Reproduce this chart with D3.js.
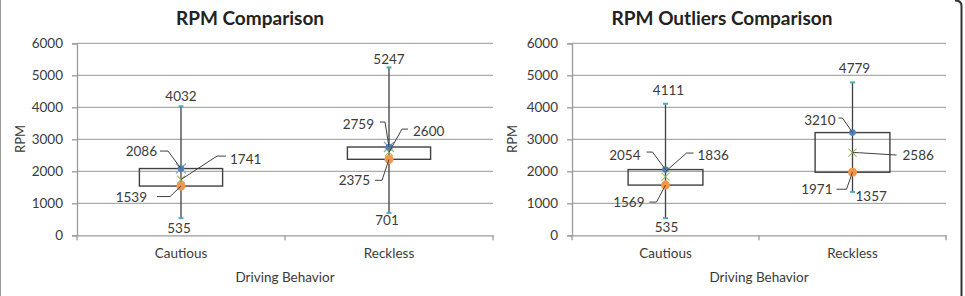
<!DOCTYPE html>
<html><head><meta charset="utf-8">
<script src="https://cdn.jsdelivr.net/npm/d3@7"></script>
<style>
html,body{margin:0;padding:0;background:#fff;}
svg{display:block;font-family:Lato,"Open Sans",sans-serif;}
</style></head>
<body>
<svg id="c" width="965" height="296"></svg>
<script>
// ---- data ----
const categories = ["Cautious", "Reckless"];
const yTicks = [0, 1000, 2000, 3000, 4000, 5000, 6000];
const titles = ["RPM Comparison", "RPM Outliers Comparison"];
const xTitle = "Driving Behavior";
const yTitle = "RPM";

// RPM Comparison
const rpmMin  = [535, 701];
const rpmQ1   = [1539, 2375];
const rpmMean = [1741, 2600];
const rpmQ3   = [2086, 2759];
const rpmMax  = [4032, 5247];

// RPM Outliers Comparison
const outMin  = [535, 1357];
const outQ1   = [1569, 1971];
const outMean = [1836, 2586];
const outQ3   = [2054, 3210];
const outMax  = [4111, 4779];

// ---- layout / label placement (styling, not data) ----
// label: [dx, dy, anchor, leader points relative to point]
const panels = [
  {
    left: 77, right: 493, titleX: 250, yTitleX: 20, star: true,
    d: {min: rpmMin, q1: rpmQ1, mean: rpmMean, q3: rpmQ3, max: rpmMax},
    lab: [
      { max:[0,-10,"middle"], min:[-2,10,"middle"],
        q3:[-24,-17.5,"end",[[-21,-17.5],[-13,-17.5],[0,0]]],
        mean:[49,-21,"start",[[45,-23.5],[36,-23.5],[0,0]]],
        q1:[-34,11,"end",[[-24,10.5],[-11,10.5],[0,0]]] },
      { max:[0,-8,"middle"], min:[-2,7,"middle"],
        q3:[-15,-23,"end",[[-9,-25],[-4,-25],[0,0]]],
        mean:[24,-21,"start",[[19,-23],[13,-23],[0,0]]],
        q1:[-19,21,"end",[[-14,21],[-7,21],[0,0]]] }
    ]
  },
  {
    left: 572, right: 946, titleX: 722, yTitleX: 512, star: false,
    d: {min: outMin, q1: outQ1, mean: outMean, q3: outQ3, max: outMax},
    lab: [
      { max:[3,-14,"middle"], min:[1,9,"middle"],
        q3:[-25,-15,"end",[[-19,-17.5],[-13,-17.5],[0,0]]],
        mean:[32,-21.5,"start",[[28,-23.5],[21,-23.5],[0,-5]]],
        q1:[-21,17,"end",[[-16,17],[-9,17],[0,0]]] },
      { max:[2,-14,"middle"], min:[3,4,"start"],
        q3:[-17,-12.5,"end",[[-14,-14.5],[-10,-14.5],[0,0]]],
        mean:[50,2.5,"start",[[44,2.5],[7,0.2],[0,0]]],
        q1:[-20,17,"end",[[-16,17],[-6,17],[0,0]]] }
    ]
  }
];

const svg = d3.select("#c");
const y = d3.scaleLinear().domain([0, 6000]).range([235.3, 43.3]);
const gridC = "#ababab", axisC = "#9a9a9a", textC = "#3a3a3a", boxC = "#404040";
const blue = "#4f81bd", orange = "#f79646", green = "#9bbb59", cyan = "#4bacc6";

// outer frame
svg.append("line").attr("x1",0.5).attr("x2",0.5).attr("y1",0).attr("y2",296)
  .attr("stroke","#9a9a9a").attr("stroke-width",1);
svg.append("path").attr("d","M955,0.5 Q961.5,0.5 961.5,6 L961.5,296")
  .attr("fill","none").attr("stroke","#333").attr("stroke-width",2);

panels.forEach((p, pi) => {
  const g = svg.append("g");
  const x = d3.scaleBand().domain(categories).range([p.left, p.right]);
  const bw = x.bandwidth() * 0.4;

  // gridlines
  g.selectAll(".grid").data(yTicks.filter(t => t > 0)).join("line")
    .attr("x1", p.left).attr("x2", p.right)
    .attr("y1", d => y(d)).attr("y2", d => y(d))
    .attr("stroke", gridC).attr("stroke-width", 1.3);

  // y axis
  const ya = g.append("g").attr("transform", `translate(${p.left},0)`)
    .call(d3.axisLeft(y).tickValues(yTicks).tickSize(5).tickPadding(9).tickFormat(d3.format("d")));
  ya.select(".domain").attr("stroke", axisC).attr("stroke-width",1.3);
  ya.selectAll(".tick line").attr("stroke", axisC).attr("stroke-width",1.3);
  ya.selectAll(".tick text").attr("fill", textC).style("font-size","13.5px").style("font-family","Lato");

  // x axis
  const xa = g.append("g").attr("transform", `translate(0,${y(0)})`)
    .call(d3.axisBottom(x).tickSize(0).tickPadding(13));
  xa.select(".domain").attr("stroke", axisC).attr("stroke-width",1.3);
  xa.selectAll(".tick text").attr("fill", textC).style("font-size","13.5px").style("font-family","Lato");
  // category boundary ticks
  const bounds = [p.left, p.left + x.step(), p.right];
  g.selectAll(".bt").data(bounds).join("line")
    .attr("x1", d => d).attr("x2", d => d).attr("y1", y(0)).attr("y2", y(0) + 5)
    .attr("stroke", axisC).attr("stroke-width",1.3);

  // titles
  g.append("text").attr("x", p.titleX).attr("y", 25).attr("text-anchor","middle")
    .attr("fill","#222").style("font-size","19px").style("font-weight","bold").text(titles[pi]);
  g.append("text").attr("x", (p.left + p.right)/2).attr("y", 282).attr("text-anchor","middle")
    .attr("fill", textC).style("font-size","13.5px").text(xTitle);
  g.append("text").attr("transform", `translate(${p.yTitleX},139) rotate(-90)`)
    .attr("text-anchor","middle").attr("dominant-baseline","central")
    .attr("fill", textC).style("font-size","13px").text(yTitle);

  categories.forEach((c, i) => {
    const cx = x(c) + x.bandwidth()/2;
    const d = p.d;
    // whisker
    g.append("line").attr("x1", cx).attr("x2", cx)
      .attr("y1", y(d.min[i])).attr("y2", y(d.max[i]))
      .attr("stroke", boxC).attr("stroke-width", 1.3);
    // box
    g.append("rect").attr("x", cx - bw/2).attr("width", bw)
      .attr("y", y(d.q3[i])).attr("height", y(d.q1[i]) - y(d.q3[i]))
      .attr("fill","none").attr("stroke", boxC).attr("stroke-width", 1.4);
    // whisker end markers
    [d.min[i], d.max[i]].forEach(v => {
      g.append("rect").attr("x", cx - 2.5).attr("y", y(v) - 1).attr("width", 5).attr("height", 2)
        .attr("fill", cyan);
    });
    // mean marker (green x)
    const my = y(d.mean[i]);
    g.append("path").attr("d", `M${cx-4},${my-4}L${cx+4},${my+4}M${cx-4},${my+4}L${cx+4},${my-4}`)
      .attr("stroke", green).attr("stroke-width", 1.1).attr("fill","none");
    // q1 marker orange
    g.append("circle").attr("cx", cx).attr("cy", y(d.q1[i])).attr("r", 4.5).attr("fill", orange);
    // q3 marker blue
    const qy = y(d.q3[i]);
    if (p.star) {
      g.append("path").attr("d", `M${cx-5},${qy-5}L${cx+5},${qy+5}M${cx-5},${qy+5}L${cx+5},${qy-5}`)
        .attr("stroke", "#8ea6c8").attr("stroke-width", 1.2).attr("fill","none");
    }
    g.append("circle").attr("cx", cx).attr("cy", qy).attr("r", 3.3).attr("fill", blue);

    // labels
    const L = p.lab[i];
    ["max","min","q3","mean","q1"].forEach(k => {
      const v = d[k][i], py = y(v), sp = L[k];
      if (sp[3]) {
        const pts = sp[3].map(q => [cx + q[0], py + q[1]]);
        g.append("path").attr("d", d3.line()(pts)).attr("fill","none")
          .attr("stroke","#404040").attr("stroke-width",1);
      }
      g.append("text").attr("x", cx + sp[0]).attr("y", py + sp[1])
        .attr("text-anchor", sp[2]).attr("dominant-baseline","central")
        .attr("fill", textC).style("font-size","13.5px").text(v);
    });
  });
});
</script>
</body></html>
